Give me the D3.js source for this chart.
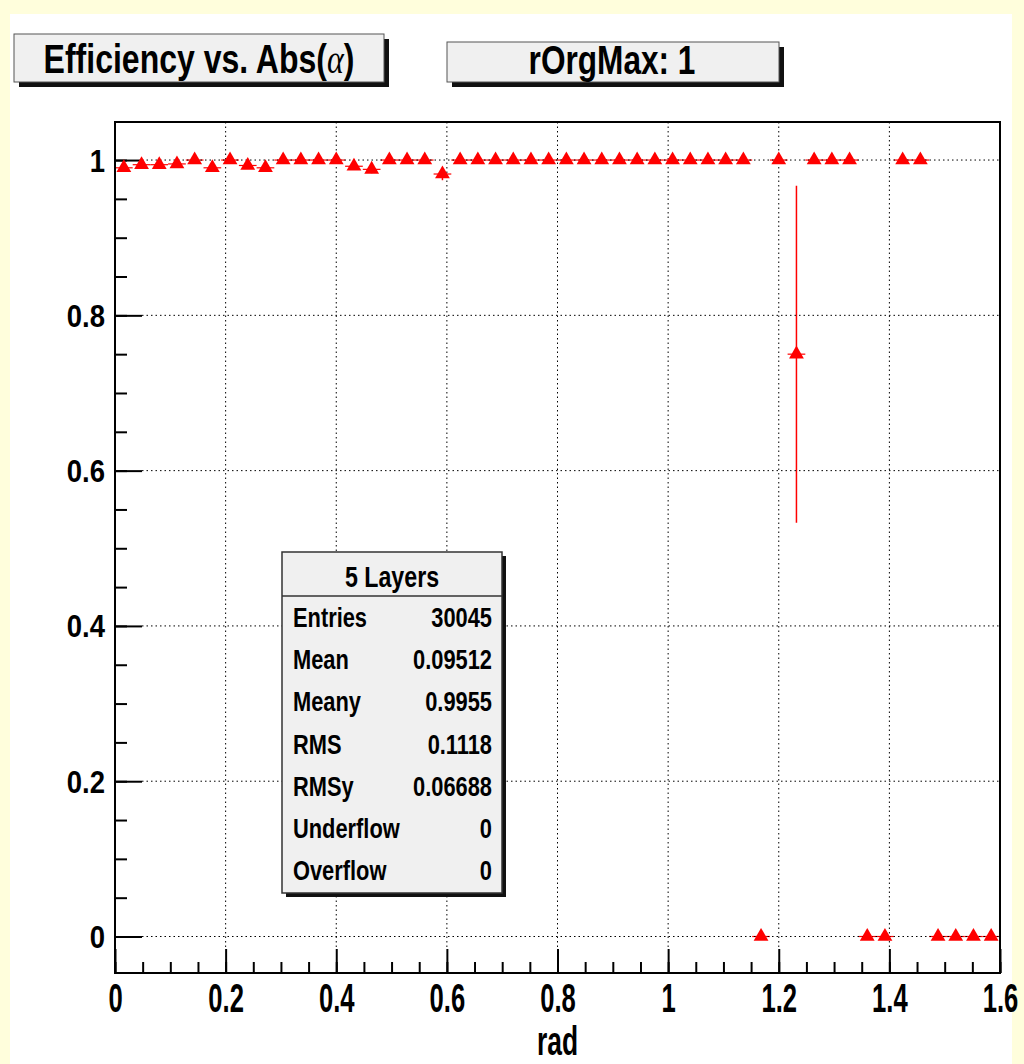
<!DOCTYPE html>
<html>
<head>
<meta charset="utf-8">
<script src="https://cdn.jsdelivr.net/npm/d3@7"></script>
<style>
  body { margin: 0; background: #fff; }
  text { font-family: "Liberation Sans", Arial, sans-serif; font-weight: bold; }
</style>
</head>
<body>
<div id="chart"></div>
<script>
// bin centres (rad) of the filled bins, efficiency and its error
var binX = [0.016, 0.048, 0.080, 0.112, 0.144, 0.176, 0.208, 0.240, 0.272, 0.304,
            0.336, 0.368, 0.400, 0.432, 0.464, 0.496, 0.528, 0.560, 0.592, 0.624,
            0.656, 0.688, 0.720, 0.752, 0.784, 0.816, 0.848, 0.880, 0.912, 0.944,
            0.976, 1.008, 1.040, 1.072, 1.104, 1.136, 1.168, 1.200, 1.232, 1.264,
            1.296, 1.328, 1.360, 1.392, 1.424, 1.456, 1.488, 1.520, 1.552, 1.584];
var effY = [0.990, 0.994, 0.994, 0.995, 1.000, 0.990, 1.000, 0.993, 0.990, 1.000,
            1.000, 1.000, 1.000, 0.992, 0.988, 1.000, 1.000, 1.000, 0.982, 1.000,
            1.000, 1.000, 1.000, 1.000, 1.000, 1.000, 1.000, 1.000, 1.000, 1.000,
            1.000, 1.000, 1.000, 1.000, 1.000, 1.000, 0.000, 1.000, 0.750, 1.000,
            1.000, 1.000, 0.000, 0.000, 1.000, 1.000, 0.000, 0.000, 0.000, 0.000];
var errY = [0.004, 0.003, 0.003, 0.003, 0, 0.004, 0, 0.004, 0.004, 0,
            0, 0, 0, 0.004, 0.005, 0, 0, 0, 0.008, 0,
            0, 0, 0, 0, 0, 0, 0, 0, 0, 0,
            0, 0, 0, 0, 0, 0, 0, 0, 0.217, 0,
            0, 0, 0, 0, 0, 0, 0, 0, 0, 0];
var binHalf = 0.016;

var xMajor = [0, 0.2, 0.4, 0.6, 0.8, 1, 1.2, 1.4, 1.6];
var yMajor = [0, 0.2, 0.4, 0.6, 0.8, 1];

var statNames = ["Entries", "Mean", "Meany", "RMS", "RMSy", "Underflow", "Overflow"];
var statValues = ["30045", "0.09512", "0.9955", "0.1118", "0.06688", "0", "0"];

var W = 1024, H = 1064;
var plot = { left: 115, right: 1000, top: 122, bottom: 973 };

var svg = d3.select("#chart").append("svg")
    .attr("width", W).attr("height", H);

// canvas background
svg.append("rect").attr("width", W).attr("height", H).attr("fill", "#fffedc");
svg.append("rect").attr("x", 10).attr("y", 14).attr("width", 1002).attr("height", H - 14)
    .attr("fill", "#fff");

var x = d3.scaleLinear().domain([0, 1.6]).range([plot.left, plot.right]);
var y = d3.scaleLinear().domain([-0.047, 1.049]).range([plot.bottom, plot.top]);

// helper for condensed text
function label(g, tx, ty, str, size, sx, anchor) {
    return g.append("text")
        .attr("transform", "translate(" + tx + "," + ty + ") scale(" + sx + ",1)")
        .attr("text-anchor", anchor || "start")
        .style("font-size", size + "px")
        .text(str);
}

// minor ticks
var xMinor = d3.range(0, 1.6001, 0.05);
var yMinor = d3.range(0, 1.0001, 0.05);

svg.append("g")
    .attr("transform", "translate(0," + plot.bottom + ")")
    .call(d3.axisBottom(x).tickValues(xMinor).tickSize(-11).tickFormat(""))
    .call(g => g.select(".domain").remove())
    .selectAll("line").attr("stroke", "#000").attr("stroke-width", 2);

svg.append("g")
    .attr("transform", "translate(" + plot.left + ",0)")
    .call(d3.axisLeft(y).tickValues(yMinor).tickSize(-12).tickFormat(""))
    .call(g => g.select(".domain").remove())
    .selectAll("line").attr("stroke", "#000").attr("stroke-width", 2);

// major ticks with labels
var xAx = svg.append("g")
    .attr("transform", "translate(0," + plot.bottom + ")")
    .call(d3.axisBottom(x).tickValues(xMajor).tickSize(-24).tickFormat(d3.format("")));
xAx.select(".domain").remove();
xAx.selectAll("line").attr("stroke", "#000").attr("stroke-width", 2);
xAx.selectAll("text")
    .attr("y", null).attr("dy", null)
    .attr("transform", "translate(0,39) scale(0.64,1)")
    .attr("fill", "#000")
    .style("font-size", "40px");

var yAx = svg.append("g")
    .attr("transform", "translate(" + plot.left + ",0)")
    .call(d3.axisLeft(y).tickValues(yMajor).tickSize(-27).tickFormat(d3.format("")));
yAx.select(".domain").remove();
yAx.selectAll("line").attr("stroke", "#000").attr("stroke-width", 2);
yAx.selectAll("text")
    .attr("x", null).attr("dy", null)
    .attr("transform", "translate(-10,11) scale(0.86,1)")
    .attr("fill", "#000")
    .style("font-size", "32px");

// x error bars (bin width) and y error bars
var pts = binX.map(function (d, i) { return { x: d, y: effY[i], e: errY[i] }; });

svg.append("g")
    .selectAll("xerr")
    .data(pts)
    .enter()
    .append("line")
    .attr("x1", function (d) { return x(d.x - binHalf); })
    .attr("x2", function (d) { return x(d.x + binHalf); })
    .attr("y1", function (d) { return y(d.y); })
    .attr("y2", function (d) { return y(d.y); })
    .attr("stroke", "#ff0000")
    .attr("stroke-width", 1.2);

svg.append("g")
    .selectAll("yerr")
    .data(pts.filter(function (d) { return d.e > 0; }))
    .enter()
    .append("line")
    .attr("x1", function (d) { return x(d.x); })
    .attr("x2", function (d) { return x(d.x); })
    .attr("y1", function (d) { return y(d.y - d.e); })
    .attr("y2", function (d) { return y(d.y + d.e); })
    .attr("stroke", "#ff0000")
    .attr("stroke-width", 1.5);

// dotted grid
svg.append("g")
    .selectAll("gx")
    .data(xMajor.slice(1, -1))
    .enter()
    .append("line")
    .attr("x1", function (d) { return x(d); })
    .attr("x2", function (d) { return x(d); })
    .attr("y1", plot.top)
    .attr("y2", plot.bottom - 24)
    .attr("stroke", "#000")
    .attr("stroke-width", 1)
    .attr("stroke-dasharray", "1.5,3");

svg.append("g")
    .selectAll("gy")
    .data(yMajor)
    .enter()
    .append("line")
    .attr("x1", plot.left + 27)
    .attr("x2", plot.right)
    .attr("y1", function (d) { return y(d); })
    .attr("y2", function (d) { return y(d); })
    .attr("stroke", "#000")
    .attr("stroke-width", 1)
    .attr("stroke-dasharray", "1.5,3");

// triangle markers
var tri = d3.symbol().type(d3.symbolTriangle).size(95);
svg.append("g")
    .selectAll("mk")
    .data(pts)
    .enter()
    .append("path")
    .attr("d", tri)
    .attr("transform", function (d) { return "translate(" + x(d.x) + "," + y(d.y) + ")"; })
    .attr("fill", "#ff0000");

// frame
svg.append("rect")
    .attr("x", plot.left).attr("y", plot.top)
    .attr("width", plot.right - plot.left).attr("height", plot.bottom - plot.top)
    .attr("fill", "none").attr("stroke", "#000").attr("stroke-width", 2);

// axis title
label(svg, (plot.left + plot.right) / 2, 1055, "rad", 40, 0.66, "middle");

// title boxes
function box(x0, y0, w, h) {
    svg.append("rect").attr("x", x0 + 5).attr("y", y0 + 5).attr("width", w).attr("height", h)
        .attr("fill", "#111");
    svg.append("rect").attr("x", x0).attr("y", y0).attr("width", w).attr("height", h)
        .attr("fill", "#f0f0f0").attr("stroke", "#555").attr("stroke-width", 1);
}
box(14, 34, 370, 48);
var t1 = label(svg, 199, 73, "Efficiency vs. Abs(", 40, 0.8, "middle");
t1.append("tspan")
    .style("font-family", "'Liberation Serif', serif")
    .style("font-weight", "normal")
    .style("font-style", "italic")
    .text("\u03b1");
t1.append("tspan").text(")");

box(447, 42, 332, 40);
label(svg, 612, 74, "rOrgMax: 1", 40, 0.79, "middle");

// stats box
var sb = { x: 282, y: 552, w: 220, h: 341 };
svg.append("rect").attr("x", sb.x + 4).attr("y", sb.y + 4).attr("width", sb.w).attr("height", sb.h)
    .attr("fill", "#111");
svg.append("rect").attr("x", sb.x).attr("y", sb.y).attr("width", sb.w).attr("height", sb.h)
    .attr("fill", "#f0f0f0").attr("stroke", "#333").attr("stroke-width", 1.5);
svg.append("line").attr("x1", sb.x).attr("x2", sb.x + sb.w).attr("y1", 596).attr("y2", 596)
    .attr("stroke", "#333").attr("stroke-width", 1.5);
label(svg, sb.x + sb.w / 2, 587, "5 Layers", 29, 0.8, "middle");

var rowY = d3.scaleBand().domain(statNames).range([596, 891]);
statNames.forEach(function (n, i) {
    var by = rowY(n) + rowY.bandwidth() / 2 + 10;
    label(svg, sb.x + 11, by, n, 28, 0.78, "start");
    label(svg, sb.x + sb.w - 10, by, statValues[i], 28, 0.78, "end");
});
</script>
</body>
</html>
